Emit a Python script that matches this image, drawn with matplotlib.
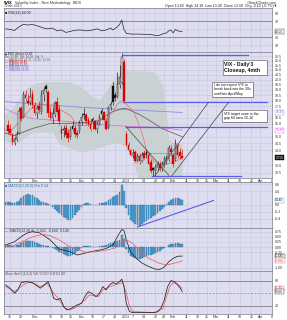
import matplotlib
matplotlib.use("Agg")
import matplotlib.pyplot as plt
from matplotlib.patches import Rectangle
from matplotlib.ticker import NullLocator

plt.rcParams['font.family'] = ['Liberation Sans', 'DejaVu Sans']

# ---------------- data (x = trading-day index, 0 = 15 Oct 2012) ----------------
tick_idx = [0, 5, 11, 18, 23, 27, 32, 37, 42, 47, 52, 55, 60, 65, 69, 73, 79, 84, 88, 92, 98, 103, 108, 112, 117]
tick_labels = ['15', '22', 'Nov', '12', '19', '26', 'Dec', '10', '17', '24', '2013', '7', '14', '22', '28',
               'Feb', '11', '19', '25', 'Mar', '11', '18', '25', 'Apr', '8']

candle_idx = list(range(-1, 78))
opens = [15.9, 15.6, 15.1, 14.6, 14.8, 15.3, 17.3, 16.6, 18.5, 18.0, 17.9, 18.6, 17.6, 16.9, 17.5, 17.0, 18.6,
         19.4, 18.8, 17.0, 16.5, 16.8, 17.9, 17.2, 15.6, 15.6, 15.7, 15.3, 15.0, 15.8, 15.7, 15.3, 15.4, 16.2,
         16.8, 16.7, 16.3, 16.0, 16.4, 16.2, 15.6, 16.0, 17.1, 17.0, 16.2, 15.7, 17.5, 19.4, 18.5, 18.3, 19.6,
         19.7, 21.9, 15.2, 14.4, 14.0, 13.7, 13.9, 13.3, 13.6, 13.3, 13.8, 13.9, 13.7, 13.2, 12.8, 12.6, 12.9,
         13.1, 12.8, 13.1, 13.3, 13.4, 14.1, 13.7, 13.4, 14.3, 13.9, 13.6]
highs = [16.3, 16.0, 15.3, 15.0, 15.4, 17.4, 17.5, 18.9, 19.0, 18.6, 19.2, 19.0, 17.9, 17.6, 18.0, 19.0, 19.3,
         19.6, 19.0, 17.4, 17.3, 18.0, 18.3, 17.6, 15.9, 15.9, 16.0, 15.6, 15.8, 16.2, 16.0, 15.5, 16.3, 16.9,
         17.3, 16.9, 16.6, 16.4, 16.6, 16.3, 16.2, 16.8, 17.3, 17.1, 16.5, 17.5, 18.0, 19.8, 18.8, 20.8, 21.5,
         22.9, 22.2, 15.4, 14.6, 14.1, 14.1, 14.0, 13.8, 13.8, 13.9, 14.0, 14.1, 13.9, 13.4, 12.9, 13.1, 13.3,
         13.3, 13.3, 13.6, 13.7, 14.4, 14.4, 13.8, 14.8, 14.5, 14.2, 14.1]
lows = [15.2, 15.1, 14.4, 14.4, 14.7, 15.2, 16.2, 16.5, 18.0, 17.6, 17.6, 17.3, 16.7, 16.5, 16.9, 16.8, 18.0,
        18.8, 16.6, 16.3, 16.1, 16.6, 16.8, 15.9, 14.8, 15.0, 14.9, 14.6, 14.8, 15.4, 15.0, 14.9, 15.3, 15.9,
        16.4, 16.0, 15.8, 15.4, 15.6, 15.5, 15.3, 15.9, 16.4, 16.2, 15.5, 15.6, 17.2, 17.6, 18.0, 18.2, 19.2,
        19.6, 17.8, 14.3, 13.9, 13.6, 13.5, 13.2, 13.2, 13.1, 13.2, 13.4, 13.5, 13.0, 12.5, 12.3, 12.3, 12.7,
        12.6, 12.6, 12.9, 13.1, 13.3, 13.7, 12.9, 13.3, 13.5, 13.4, 13.4]
closes = [15.4, 15.3, 14.6, 14.8, 15.2, 17.1, 16.4, 18.6, 18.2, 17.8, 18.3, 17.6, 16.9, 17.3, 17.2, 18.5, 19.0,
          19.1, 16.9, 16.5, 16.9, 17.8, 17.0, 16.2, 15.2, 15.5, 15.1, 14.9, 15.5, 15.6, 15.2, 15.1, 16.1, 16.6,
          16.7, 16.2, 16.0, 15.6, 16.2, 15.6, 16.0, 16.6, 16.8, 16.3, 15.6, 17.4, 17.7, 17.9, 18.2, 19.6, 20.3,
          22.4, 18.0, 14.4, 14.0, 13.7, 13.8, 13.3, 13.6, 13.3, 13.7, 13.5, 13.7, 13.1, 12.6, 12.7, 12.9, 13.1,
          12.8, 13.1, 13.4, 13.5, 14.2, 13.9, 13.1, 14.5, 13.7, 13.6, 13.5]

band_x = [-2.7, 1, 4, 7, 10, 13, 16, 19, 22, 25, 28, 31, 34, 37, 40, 43, 46, 49, 52, 55, 58, 61, 64, 66,
          68, 69, 70, 71, 73, 75, 77]
band_upper = [16.8, 17.3, 18.2, 19.1, 19.5, 19.7, 19.8, 19.8, 19.8, 19.8, 19.65, 19.4, 18.9, 18.3, 18.05,
              18.9, 20.0, 20.7, 21.0, 21.0, 20.9, 20.9, 20.8, 20.4, 19.5, 18.4, 16.7, 14.8, 14.6, 14.5, 14.45]
band_lower = [14.75, 14.5, 14.6, 15.0, 15.3, 15.35, 15.35, 15.3, 14.5, 14.3, 14.1, 13.9, 13.95, 14.05, 14.2,
              14.4, 14.5, 14.5, 14.2, 13.4, 11.6, 11.0, 10.8, 10.8, 10.8, 10.9, 11.5, 12.2, 12.25, 12.3, 12.3]

ma10_x = [-2.5, 0, 4.5, 9, 13.5, 18, 21, 23.5, 27, 30, 34.5, 39, 43.5, 46, 48, 50.5, 52, 55, 57, 59.5, 61,
          64.5, 68, 71.5, 74.5, 77]
ma10_v = [15.6, 15.35, 16.27, 17.24, 17.68, 17.5, 17.33, 17.07, 16.69, 15.87, 15.87, 16.27, 16.43, 17.07,
          17.68, 18.0, 17.68, 17.07, 16.27, 15.02, 14.0, 13.2, 12.97, 13.12, 13.3, 13.45]
ma50_x = [-2.5, 2, 10, 18, 25, 33, 40, 45, 50, 52, 58, 62.5, 68, 77]
ma50_v = [15.3, 15.09, 15.63, 16.03, 16.03, 16.11, 16.27, 16.94, 17.29, 17.29, 16.77, 16.27, 15.63, 15.0]
ma100_x = [-2.7, 4.5, 10, 21, 40, 54, 67, 77]
ma100_v = [17.3, 16.69, 16.43, 16.27, 15.95, 15.79, 15.71, 15.5]
ma200_x = [-2.7, 36, 77]
ma200_v = [17.9, 17.35, 16.95]

level_v = [22.7, 17.85, 15.75, 12.3]
level_x0 = [50, 50.5, 52, 63.5]
level_x1 = [106.5, 115, 115, 103.5]
dot_level_v = 13.8
dot_level_x = [62, 77]
trend_x = [[51.8, 71.0], [64.7, 88.8], [72.3, 97.8]]
trend_v = [[15.8, 12.35], [12.3, 17.85], [12.3, 17.85]]

price_ticks = [12.5, 13.0, 14.0, 14.5, 15.0, 16.0, 16.5, 17.5, 18.0, 18.5, 19.0, 19.5,
               20.0, 20.5, 21.0, 21.5, 22.0, 22.5]

rsi_x = [-2, 0, 2, 4, 6, 8, 10, 13, 15, 17, 19, 21, 23, 25, 28, 30, 32, 34, 36, 39, 41, 43, 45, 46, 48, 49,
         50, 51, 52, 54, 57, 60, 63, 65, 67, 68, 70, 71, 72, 73, 74, 75, 76, 77]
rsi_v = [51, 49.5, 47, 56, 62.5, 60.5, 62, 57, 53, 51, 53, 46, 48, 42, 46, 48, 48, 46, 47, 51, 46, 48, 53, 48,
         56, 62, 73, 49, 40, 38, 38, 37.5, 37, 34.5, 35, 38, 41, 46, 48, 41, 49.5, 46, 45, 44]

hist_x = list(range(-2, 78))
hist_v = [0.10, 0.10, 0.08, 0.06, 0.05, 0.08, 0.12, 0.20, 0.26, 0.30, 0.31, 0.30, 0.28, 0.24, 0.20, 0.14, 0.10,
          0.09, 0.06, 0.03, 0.01, -0.05, -0.11, -0.16, -0.23, -0.28, -0.33, -0.37, -0.42, -0.42, -0.38, -0.30,
          -0.21, -0.13, -0.07, 0.03, 0.05, 0.06, 0.03, 0.01, -0.01, 0.01, 0.05, 0.07, 0.06, 0.08, 0.14, 0.18,
          0.22, 0.26, 0.30, 0.36, 0.58, 0.39, -0.10, -0.30, -0.42, -0.50, -0.55, -0.58, -0.60, -0.54, -0.50,
          -0.45, -0.41, -0.37, -0.32, -0.29, -0.24, -0.18, -0.11, -0.05, 0.02, 0.09, 0.14, 0.16, 0.20, 0.20,
          0.17, 0.14]
hist_trend_x = [57, 91]
hist_trend_v = [-0.63, 0.13]

macd_x = [-2, 2, 6, 8, 10, 13, 16, 18, 20, 22, 27, 30, 33, 36, 40, 43, 46, 47, 48, 50, 51, 52, 53, 54, 56, 59,
          62, 65, 67, 69, 71, 73, 75, 77]
macd_v = [0.1, 0.26, 0.58, 0.7, 0.75, 0.7, 0.5, 0.34, 0.12, -0.1, -0.23, -0.39, -0.31, -0.23, -0.15, -0.07,
          0.1, 0.3, 0.5, 0.86, 0.8, 0.35, 0.05, -0.25, -0.5, -0.78, -0.95, -1.08, -1.09, -0.98, -0.72, -0.55,
          -0.45, -0.44]
sig_x = [-2, 2, 6, 10, 15, 18, 21, 24, 26, 30, 34, 39, 43, 47, 50, 52, 54, 58, 62, 67, 70, 73, 76, 77]
sig_v = [0.0, 0.1, 0.3, 0.5, 0.62, 0.55, 0.4, 0.22, 0.06, -0.12, -0.25, -0.22, -0.15, -0.05, 0.2, 0.35, 0.25,
         -0.15, -0.55, -0.8, -0.88, -0.8, -0.72, -0.66]

stk_x = [-2, 0, 2, 3.5, 5, 7.5, 10.5, 13.5, 15.5, 17, 18.5, 19.5, 21, 22.5, 24, 25.5, 27.5, 30, 32, 33.5, 35,
         36.5, 38.5, 40, 41.5, 43, 44.5, 46, 47.5, 49, 50, 51, 52, 53.5, 55, 59.5, 64, 66, 67.5, 69, 70.5, 72,
         73.5, 75, 76.5, 77]
stk_v = [69.7, 61.8, 49.8, 57.7, 75.2, 77.6, 73.8, 61.8, 69.7, 77.6, 57.7, 37.7, 33.7, 37.7, 17.6, 9.7, 13.8,
         21.7, 25.7, 41.6, 53.6, 49.8, 41.6, 49.8, 65.6, 57.7, 69.7, 75.2, 72.1, 77.6, 83.4, 65.6, 25.7, 5.7,
         3.3, 3.3, 3.3, 5.7, 13.8, 33.7, 65.6, 80, 77.6, 69.7, 59.4, 53.6]
std_x = [-2, 2, 6, 9, 13.5, 16.5, 19.5, 21.5, 24.5, 27, 30, 33.5, 35.5, 39.5, 41.5, 45.5, 48.5, 50.5, 52, 53.5,
         55, 65.5, 68.5, 70, 71.5, 73, 75, 77]
std_v = [65.6, 53.6, 69.7, 77.6, 65.6, 73.8, 49.8, 37.7, 13.8, 9.7, 17.6, 33.7, 45.7, 41.6, 57.7, 67.3, 72.1,
         75.2, 49.8, 17.6, 5.7, 3.3, 13.8, 41.6, 65.6, 75.2, 71.4, 61.8]

# ---------------- styling ----------------
W, H = 287, 320
BG = '#dedef0'
GRID = '#c8c8dc'
RED = '#dd0000'
XMIN, XMAX = -2.7, 117.2
FS = 2.6

fig = plt.figure(figsize=(W / 100, H / 100), dpi=100)
fig.patch.set_facecolor('white')


def add_panel(y0, y1, x0=4, x1=272):
    ax = fig.add_axes([x0 / W, 1 - y1 / H, (x1 - x0) / W, (y1 - y0) / H])
    ax.set_facecolor(BG)
    ax.set_xlim(XMIN, XMAX)
    for s in ax.spines.values():
        s.set_color('#77778a')
        s.set_linewidth(0.5)
    ax.set_xticks(tick_idx)
    ax.set_xticklabels(tick_labels)
    ax.tick_params(axis='x', length=0, labelbottom=False, labelsize=FS, pad=0.7, colors='#333')
    ax.yaxis.tick_right()
    ax.tick_params(axis='y', length=1, width=0.3, labelsize=FS, pad=0.8, colors='#333')
    ax.grid(True, color=GRID, lw=0.4)
    ax.set_axisbelow(True)
    return ax


def ftext(px, py, s, **kw):
    kw.setdefault('fontsize', FS)
    kw.setdefault('va', 'center')
    return fig.text(px / W, 1 - py / H, s, **kw)


def vbox(ax, v, s, ec, fc='white', tc='#222'):
    ax.text(1.012, v, s, transform=ax.get_yaxis_transform(), fontsize=FS - 0.3, color=tc, va='center',
            ha='left', bbox=dict(boxstyle='square,pad=0.12', fc=fc, ec=ec, lw=0.3), zorder=20, clip_on=False)


# ---------------- header ----------------
ftext(4, 2.6, r'$VIX', fontweight='bold', fontsize=2.9)
ftext(15, 2.6, 'Volatility Index - New Methodology  INDX', color='#333')
ftext(4, 5.8, '7-Feb-2013', color='#333')
ftext(277, 2.6, '\u00a9StockCharts.com', ha='right', color='#333')
ftext(277, 5.8, 'Open 13.60  High 14.10  Low 13.40  Close 13.50  Chg -0.10 (-0.7%)\u25bc', ha='right',
      color='#222')

# ---------------- RSI panel ----------------
ax1 = add_panel(8, 52)
ax1.set_ylim(-6.75, 103)
ax1.set_yticks([10, 30, 70, 90])
ax1.axhline(70, color='#8a8a9c', lw=0.7)
ax1.axhline(30, color='#8a8a9c', lw=0.7)
ax1.axhline(50, color=GRID, lw=0.4)
ax1.plot(rsi_x, rsi_v, color='#222', lw=0.5)
ax1.text(0.005, 0.94, '\u25a0 RSI(14) 44.00', transform=ax1.transAxes, fontsize=FS, va='top', color='#222')
vbox(ax1, rsi_v[-1], '44.00', '#222')

# ---------------- price panel ----------------
ax2 = add_panel(52, 178)
ax2.set_yscale('log')
ax2.set_ylim(12.18, 22.99)
ax2.set_yticks(price_ticks)
ax2.set_yticklabels([f'{v:.1f}' for v in price_ticks])
ax2.yaxis.set_minor_locator(NullLocator())
ax2.tick_params(axis='x', labelbottom=True)

ax2.fill_between(band_x, band_lower, band_upper, color='#c9d1d2', lw=0, zorder=1)
ax2.plot(ma200_x, ma200_v, color='#8c8ce0', lw=0.6, zorder=2)
ax2.plot(ma100_x, ma100_v, color='#e070e0', lw=0.6, zorder=2)
ax2.plot(ma50_x, ma50_v, color='#666670', lw=0.6, zorder=2)
ax2.plot(ma10_x, ma10_v, color='#ee6a6a', lw=0.5, zorder=2)

for k, i in enumerate(candle_idx):
    o, h, l, c = opens[k], highs[k], lows[k], closes[k]
    prev = closes[k - 1] if k > 0 else o + 0.1
    col = RED if c < prev else '#111'
    lo_b, hi_b = min(o, c), max(o, c)
    ax2.vlines(i, l, lo_b, color=col, lw=0.45, zorder=4)
    ax2.vlines(i, hi_b, h, color=col, lw=0.45, zorder=4)
    if c >= o:
        ax2.add_patch(Rectangle((i - 0.33, lo_b), 0.66, hi_b - lo_b, fc='#e6e6f2', ec=col, lw=0.35, zorder=5))
    else:
        ax2.add_patch(Rectangle((i - 0.33, lo_b), 0.66, hi_b - lo_b, fc=col, ec=col, lw=0.3, zorder=5))

for v, a, b in zip(level_v, level_x0, level_x1):
    ax2.plot([a, b], [v, v], color='#5b5bf0', lw=0.9, zorder=6)
ax2.plot(dot_level_x, [dot_level_v, dot_level_v], color='#5b5bf0', lw=0.6, ls=(0, (1, 1)), zorder=6)
for xs, vs in zip(trend_x, trend_v):
    ax2.plot(xs, vs, color='#505058', lw=0.55, zorder=6)

legend_lines = [('\u25a0 $VIX (Daily) 13.50', '#222'),
                ('Dn: 13.40  Up: 14.10  Vol: 0', '#555'),
                ('\u2014 BB(20,2.0) 13.37, 14.45, 12.30', '#666'),
                ('\u2014 MA(10) 13.45', RED),
                ('\u2014 MA(50) 15.00', '#555'),
                ('\u2014 MA(100) 15.50', '#d040d0'),
                ('\u2014 MA(200) 16.95', '#6a6ad8')]
for n, (s, c) in enumerate(legend_lines):
    ftext(5, 54.5 + n * 2.55, s, color=c, fontsize=2.2)

vbox(ax2, ma200_v[-1], '16.95', '#8c8ce0', tc='#6a6ad8')
vbox(ax2, ma100_v[-1], '15.50', '#e070e0', tc='#d040d0')
vbox(ax2, closes[-1], '13.50', '#111', fc='#111', tc='white')


def note_box(x0, y0, x1, y1, text, fs, weight='normal'):
    fig.add_artist(Rectangle(((x0 + 1) / W, 1 - (y1 + 1) / H), (x1 - x0) / W, (y1 - y0) / H,
                             transform=fig.transFigure, fc='#9a9aa8', ec='none', zorder=9))
    fig.add_artist(Rectangle((x0 / W, 1 - y1 / H), (x1 - x0) / W, (y1 - y0) / H,
                             transform=fig.transFigure, fc='white', ec='#555', lw=0.4, zorder=10))
    fig.text((x0 + 1.5) / W, 1 - (y0 + y1) / 2 / H, text, fontsize=fs, va='center', ha='left',
             fontweight=weight, color='#111', zorder=11, linespacing=1.25)


note_box(223, 60, 267, 75, "VIX - Daily'3\nCloseup, 4mth", 3.7, 'bold')
note_box(212, 82, 253, 97, "I do not expect VIX to\nbreak back into the 20s\nuntil late April/May", 2.5)
note_box(222, 110, 267, 122, "VIX target zone is the\ngap fill area 15-16", 2.6)

# ---------------- MACD histogram panel ----------------
ax3 = add_panel(182, 228)
ax3.set_ylim(-0.66, 0.66)
ax3.set_yticks([-0.4, -0.2, 0.0, 0.4, 0.6])
ax3.set_yticklabels(['-0.4', '-0.2', '0.0', '0.4', '0.6'])
ax3.bar(hist_x, hist_v, width=0.78, color='#45a3dc', edgecolor='#44607c', linewidth=0.25, zorder=3)
ax3.plot(hist_trend_x, hist_trend_v, color='#5b5bf0', lw=0.8, zorder=4)
ax3.text(0.005, 0.96, '\u25a0 MACD(12,26,9) Hist 0.14', transform=ax3.transAxes, fontsize=FS, va='top',
         color='#2f6f9f')
vbox(ax3, hist_v[-1], '0.140', '#45a3dc')

# ---------------- MACD panel ----------------
ax4 = add_panel(228, 271)
ax4.set_ylim(-1.17, 0.93)
mt = [-1.0, -0.25, 0.0, 0.25, 0.5, 0.75]
ax4.set_yticks(mt)
ax4.set_yticklabels([f'{v:.2f}' for v in mt])
ax4.bar(hist_x, hist_v, width=0.78, color='#45a3dc', edgecolor='#44607c', linewidth=0.25, zorder=3)
ax4.plot(macd_x, macd_v, color='#222', lw=0.55, zorder=4)
ax4.plot(sig_x, sig_v, color='#e86060', lw=0.55, zorder=4)
ax4.text(0.005, 0.97, '\u2014 MACD(12,26,9) -0.440, -0.660, 0.140', transform=ax4.transAxes, fontsize=FS,
         va='top', color='#333')
vbox(ax4, macd_v[-1], '-0.440', '#222')
vbox(ax4, sig_v[-1], '-0.660', '#e86060', tc='#d04040')

# ---------------- Stochastic panel ----------------
ax5 = add_panel(271, 314)
ax5.set_ylim(0, 103)
ax5.set_yticks([20, 80])
ax5.axhline(80, color='#8a8a9c', lw=0.7)
ax5.axhline(20, color='#8a8a9c', lw=0.7)
ax5.axhline(50, color='#8a8a9c', lw=0.5, ls=(0, (3, 2)))
ax5.plot(std_x, std_v, color='#e86060', lw=0.55, zorder=4)
ax5.plot(stk_x, stk_v, color='#222', lw=0.55, zorder=5)
ax5.text(0.005, 0.97, 'Slow Sto%(14,3) %K 53.60 %D 61.80', transform=ax5.transAxes, fontsize=FS,
         va='top', color='#555')
ax5.tick_params(axis='x', labelbottom=True)
vbox(ax5, std_v[-1], '61.80', '#e86060', tc='#d04040')
vbox(ax5, stk_v[-1], '53.60', '#222')

fig.savefig('out.png', dpi=100)
